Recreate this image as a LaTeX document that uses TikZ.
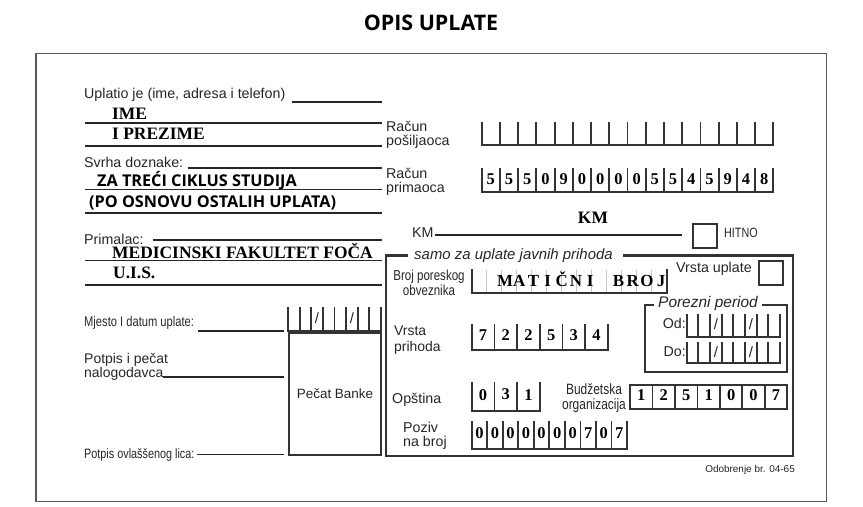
\documentclass[tikz,border=0pt]{standalone}
\usepackage{fontspec}
\setmainfont{Liberation Sans}
\newfontfamily\narrowfont[FakeStretch=0.8]{Liberation Sans}
\newfontfamily\timesfont{Liberation Serif}
\newfontfamily\openfont{Open Sans}
\usetikzlibrary{positioning}

% row of open cells: [text style]{left}{top}{bottom}{cells}{cell width}{contents}
\newcommand{\cellrow}[7][digit]{%
  \draw[cellline] (#2,#4) -- ({#2+#5*#6},#4);
  \foreach \k in {0,...,#5}
    \draw[cellline] ({#2+\k*#6},#3) -- ({#2+\k*#6},#4);
  \foreach \dd [count=\cc] in {#7}
    \node[#1] at ({#2+(\cc-0.5)*#6},{#3+0.42*(#4-#3)}) {\dd};
}

\begin{document}
\begin{tikzpicture}[
  x=1bp, y=-1bp,
  outerframe/.style = {draw=black!65, line width=1.1bp},
  field/.style = {draw=black!85, line width=1.8bp},
  cellline/.style = {draw=black!80, line width=1.8bp, line cap=rect},
  innerbox/.style = {draw=black!80, line width=2.6bp},
  lbl/.style = {anchor=west, inner sep=0pt, text=black!85, font=\fontsize{14.3}{14}\selectfont},
  narrow/.style = {anchor=west, inner sep=0pt, text=black!85, font=\narrowfont\fontsize{14}{14}\selectfont},
  entry/.style = {anchor=west, inner sep=0pt, font=\timesfont\bfseries\fontsize{17.5}{17.5}\selectfont},
  purpose/.style = {anchor=west, inner sep=0pt, font=\openfont\bfseries\fontsize{16.3}{16.3}\selectfont},
  digit/.style = {inner sep=0pt, font=\timesfont\bfseries\fontsize{16.5}{16.5}\selectfont},
  slash/.style = {inner sep=0pt, text=black!85, font=\fontsize{15}{15}\selectfont},
  boxtitle/.style = {inner sep=0pt, text=black!85, font=\itshape\fontsize{15}{15}\selectfont}
]
  \useasboundingbox (0,0) rectangle (863,507);

  % Title
  \node[font=\openfont\bfseries\fontsize{21.5}{21.5}\selectfont] (title) at (431,23) {OPIS UPLATE};

  % Form frame
  \draw[outerframe] (36,53.5) rectangle (826.5,501.5);

  % Payer
  \node[lbl] (payer) at (84,95) {Uplatio je (ime, adresa i telefon)};
  \draw[field] (291.7,101.7) -- (381.7,101.7);
  \node[entry] (name) at (112,114) {IME};
  \draw[field] (85,122.7) -- (381.7,122.7);
  \node[entry] (surname) at (112,134) {I PREZIME};
  \draw[field] (85,145.7) -- (381.7,145.7);

  % Purpose
  \node[lbl] (purposelbl) at (84,162) {Svrha doznake:};
  \draw[field] (187.7,168.3) -- (381.7,168.3);
  \node[purpose] (purpose1) at (97,180.5) {ZA TREĆI CIKLUS STUDIJA};
  \draw[field] (85,189.5) -- (381.7,189.5);
  \node[purpose] (purpose2) at (89,203) {(PO OSNOVU OSTALIH UPLATA)};
  \draw[field] (85,213.3) -- (381.7,213.3);

  % Recipient
  \node[lbl] (recipient) at (84,239) {Primalac:};
  \draw[field] (153.3,240) -- (381.7,240);
  \node[entry] (faculty) at (112,251.5) {MEDICINSKI FAKULTET FOČA};
  \draw[field] (85,260.5) -- (381.7,260.5);
  \node[entry] (uis) at (113,272.5) {U.I.S.};
  \draw[field] (85,285) -- (381.7,285);

  % Place and date
  \node[narrow] (place) at (84,323.3) {Mjesto I datum uplate:};
  \draw[field] (198,330.7) -- (284,330.7);
  \cellrow[slash]{288}{308}{331}{8}{11.625}{,,/,,,/,,}

  % Signatures and bank stamp
  \node[lbl, align=left, font=\fontsize{14}{11.5}\selectfont] (signature) at (84,367) {Potpis i pečat\\nalogodavca};
  \draw[field] (163,377) -- (284,377);
  \node[narrow, font=\narrowfont\fontsize{13.6}{14}\selectfont] (authorised) at (84,454.5) {Potpis ovlaššenog lica:};
  \draw[field] (197,454.5) -- (284,454.5);
  \draw[cellline] (289,333) rectangle (381,455);
  \node[lbl, anchor=center, font=\fontsize{13.5}{13.5}\selectfont] (stamp) at (335,394) {Pečat Banke};

  % Accounts
  \node[lbl, align=left] (sender) at (386,135) {Račun\\pošiljaoca};
  \cellrow{481.7}{122.7}{145}{16}{18.225}{}
  \node[lbl, align=left] (receiver) at (386,181.5) {Račun\\primaoca};
  \cellrow{481.7}{169.3}{192.3}{16}{18.225}{5,5,5,0,9,0,0,0,0,5,5,4,5,9,4,8}

  % Amount
  \node[lbl] (kmlbl) at (412,233) {KM};
  \draw[field] (435,235) -- (682,235);
  \node[entry, anchor=center] (km) at (593,218) {KM};
  \draw[cellline] (693,224) rectangle (717,248);
  \node[narrow, font=\narrowfont\fontsize{13.5}{13}\selectfont] (urgent) at (724,233) {HITNO};

  % Public revenue box
  \draw[innerbox] (408,255.7) -- (386,255.7) -- (386,456) -- (793,456) -- (793,255.7) -- (623,255.7);
  \node[boxtitle] (public) at (513.5,255.5) {samo za uplate javnih prihoda};

  % Taxpayer number
  \node[narrow, anchor=center, align=center, font=\narrowfont\fontsize{14.5}{15}\selectfont] (taxpayer) at (429,282.5) {Broj poreskog\\obveznika};
  \foreach \k in {1,...,12}
    \draw[gray!45, line width=1.2bp] ({471.7+\k*15},270) -- ({471.7+\k*15},292.7);
  \draw[cellline] (471.7,270) |- (666.7,292.7) -- (666.7,270);
  \foreach \ch [count=\cc from 0] in {M,A,T,I,Č,N,I,,B,R,O,J}
    \node[digit, anchor=base, font=\timesfont\bfseries\fontsize{17}{17}\selectfont] at ({505+\cc*14.2},286.8) {\ch};

  % Payment type
  \node[lbl] (paytype) at (676,269) {Vrsta uplate};
  \draw[cellline] (759,260.7) rectangle (783,285);

  % Tax period
  \draw[cellline] (653,305) -- (645,305) -- (645,371.7) -- (786.7,371.7) -- (786.7,305) -- (763,305);
  \node[boxtitle, font=\itshape\fontsize{15.5}{15.5}\selectfont] (period) at (708,304) {Porezni period};
  \node[lbl, anchor=east] (from) at (686,323) {Od:};
  \cellrow[slash]{686.7}{315}{336.7}{8}{11.67}{,,/,,,/,,}
  \node[lbl, anchor=east] (to) at (686,352) {Do:};
  \cellrow[slash]{686.7}{343.3}{363.3}{8}{11.67}{,,/,,,/,,}

  % Revenue type
  \node[lbl, align=left, font=\fontsize{14}{16}\selectfont] (revenue) at (394,340) {Vrsta\\prihoda};
  \cellrow{471.7}{325}{350}{6}{22.7}{7,2,2,5,3,4}

  % Municipality and budget organisation
  \node[lbl] (municipality) at (392,400) {Opština};
  \cellrow{471.7}{383}{410.7}{3}{22.7}{0,3,1}
  \node[narrow, anchor=center, align=center, font=\narrowfont\fontsize{15}{14.5}\selectfont] (budget) at (594,398) {Budžetska\\organizacija};
  \cellrow{630}{385}{409}{7}{22.47}{1,2,5,1,0,0,7}
  \draw[cellline] (630,385) -- (787.3,385);

  % Reference number
  \node[lbl, align=left] (reference) at (403,436) {Poziv\\na broj};
  \cellrow{471.7}{421.7}{449}{10}{15.53}{0,0,0,0,0,0,0,7,0,7}

  % Approval
  \node[lbl, anchor=east, font=\fontsize{10}{10}\selectfont] (approval) at (795,470) {Odobrenje br. 04-65};

\end{tikzpicture}
\end{document}
